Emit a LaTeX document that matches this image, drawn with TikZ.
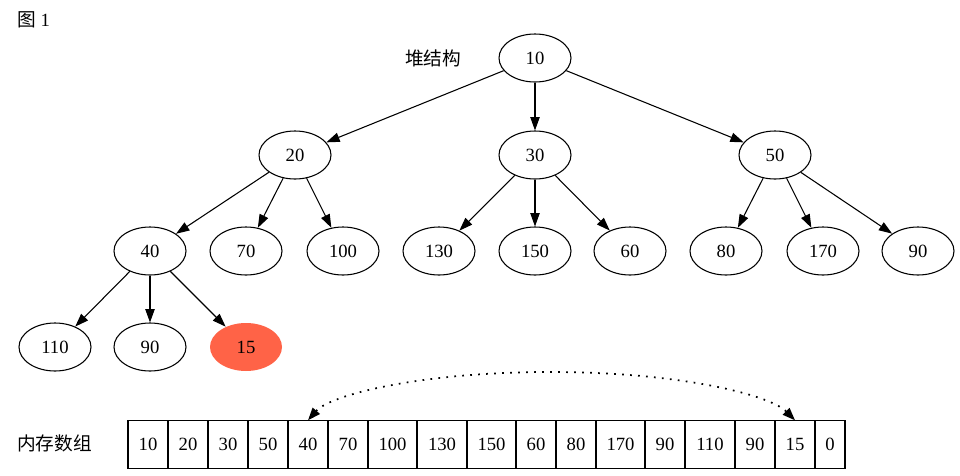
\documentclass[tikz,border=0pt]{standalone}
\usepackage{fontspec}
\setmainfont{Liberation Serif}
\newfontfamily\cjk{Noto Sans CJK SC}
\usetikzlibrary{arrows.meta,shapes.geometric}
\begin{document}
\begin{tikzpicture}[x=0.75pt,y=-0.75pt,
  every node/.style={font=\fontsize{14}{16}\selectfont},
  hnode/.style={ellipse,draw,line width=0.8pt,minimum width=54pt,minimum height=36pt,inner sep=0pt},
  hedge/.style={-{Triangle[length=10pt,width=7pt]},line width=0.8pt},
  cell/.style={rectangle,draw,line width=0.8pt,minimum height=35.5pt,inner sep=0pt},
  dotlink/.style={line width=1.3pt,dash pattern=on 1.3pt off 4.7pt,
     {Triangle[length=9.5pt,width=7pt]}-{Triangle[length=9.5pt,width=7pt]}}]
\useasboundingbox (0,0) rectangle (960,475);
% labels
\node[anchor=west,inner sep=0pt] (fig) at (17,20) {{\cjk 图} 1};
\node (heap) at (433,58) {\cjk 堆结构};
\node[anchor=west,inner sep=0pt] (mem) at (17,443) {\cjk 内存数组};
% tree nodes
\node[hnode] (n10) at (535,58) {10};
\node[hnode] (n20) at (295,155) {20};
\node[hnode] (n30) at (535,155) {30};
\node[hnode] (n50) at (775,155) {50};
\node[hnode] (n40) at (150,251) {40};
\node[hnode] (n70) at (246,251) {70};
\node[hnode] (n100) at (343,251) {100};
\node[hnode] (n130) at (439,251) {130};
\node[hnode] (n150) at (535,251) {150};
\node[hnode] (n60) at (630,251) {60};
\node[hnode] (n80) at (726,251) {80};
\node[hnode] (n170) at (823,251) {170};
\node[hnode] (n90a) at (918,251) {90};
\node[hnode] (n110) at (55,347) {110};
\node[hnode] (n90b) at (150,347) {90};
\node[hnode,draw=none,fill={rgb,255:red,255;green,99;blue,71}] (n15) at (246,347) {15};
% tree edges
\draw[hedge] (n10) -- (n20);
\draw[hedge] (n10) -- (n30);
\draw[hedge] (n10) -- (n50);
\draw[hedge] (n20) -- (n40);
\draw[hedge] (n20) -- (n70);
\draw[hedge] (n20) -- (n100);
\draw[hedge] (n30) -- (n130);
\draw[hedge] (n30) -- (n150);
\draw[hedge] (n30) -- (n60);
\draw[hedge] (n50) -- (n80);
\draw[hedge] (n50) -- (n170);
\draw[hedge] (n50) -- (n90a);
\draw[hedge] (n40) -- (n110);
\draw[hedge] (n40) -- (n90b);
\draw[hedge] (n40) -- (n15);
% array
\foreach \i/\t/\a/\b in {1/10/128/168,2/20/168/208,3/30/208/248,4/50/248/288,5/40/288/328,6/70/328/368,7/100/368/417,8/130/417/467,9/150/467/516,10/60/516/556,11/80/556/596,12/170/596/645,13/90/645/685,14/110/685/735,15/90/735/775,16/15/775/815,17/0/815/845}{
  \pgfmathsetmacro\w{(\b-\a)*0.75}
  \pgfmathsetmacro\cx{(\a+\b)/2}
  \node[cell,minimum width=\w pt] (c\i) at (\cx,444.5) {\t};
}
\coordinate (peak) at (550,372);
\draw[dotlink] (c5.north) .. controls (330,395) and (420,372) .. (peak) .. controls (680,372) and (770,395) .. (c16.north);
\end{tikzpicture}
\end{document}
